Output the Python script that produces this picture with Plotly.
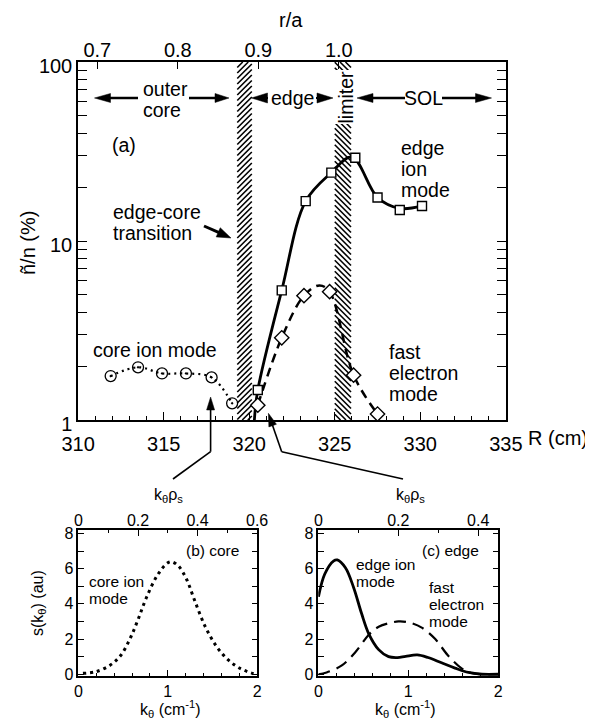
import math
import plotly.graph_objects as go

# The page places the figure 8 px from the top-left corner of the window,
# so the figure is 8 px smaller and positions are measured from the window corner.
OFF = 8
W, H = 593 - OFF, 719 - OFF
def X(px): return (px - OFF) / W
def Y(py): return 1 - (py - OFF) / H

# ---------------- data ----------------
# (a) fluctuation level vs major radius
core_R = [311.9, 313.5, 314.9, 316.3, 317.8, 319.0]
core_v = [1.76, 1.97, 1.82, 1.82, 1.73, 1.24]

edge_R = [320.5, 321.9, 323.3, 324.8, 326.2, 327.5, 328.8, 330.1]
edge_v = [1.47, 5.3, 16.7, 24.1, 29.2, 17.5, 14.9, 15.7]

fast_R = [320.5, 321.9, 323.2, 324.7, 326.1, 327.5]
fast_v = [1.21, 2.88, 4.95, 5.21, 1.78, 1.08]

edge_fit_R = [320.3, 320.5, 321.9, 323.3, 324.8, 326.0, 327.5, 328.8, 330.1]
edge_fit_v = [1.0, 1.47, 5.3, 16.7, 24.1, 29.5, 17.5, 15.2, 15.7]

fast_fit_R = [320.5, 321.9, 323.2, 324.1, 324.7, 326.1, 327.5]
fast_fit_v = [1.21, 2.88, 4.95, 5.65, 5.21, 1.78, 1.08]

band_lo = [319.3, 325.0]     # edge-core transition, limiter
band_hi = [320.15, 325.95]

R_ticks = [310, 315, 320, 325, 330, 335]
ra_ticks = [0.7, 0.8, 0.9, 1.0]
ra_labels = ["0.7", "0.8", "0.9", "1.0"]
n_ticks = [1, 10, 100]

# (b) core spectrum
k_core = [0.05, 0.2, 0.35, 0.47, 0.58, 0.67, 0.76, 0.88, 0.99, 1.04, 1.12, 1.21,
          1.30, 1.42, 1.55, 1.68, 1.81, 1.96]
s_core = [0.05, 0.15, 0.5, 1.05, 2.05, 3.15, 4.35, 5.6, 6.3, 6.4, 6.15, 5.4,
          4.2, 2.7, 1.55, 0.8, 0.33, 0.03]

# (c) edge spectra
k_edge_ion = [0.0, 0.07, 0.17, 0.21, 0.3, 0.39, 0.48, 0.56, 0.67, 0.78, 0.88, 0.97,
              1.1, 1.22, 1.37, 1.52, 1.67, 1.82, 2.0]
s_edge_ion = [4.4, 5.7, 6.45, 6.5, 6.05, 4.95, 3.45, 2.3, 1.4, 1.0, 0.95, 1.02,
              1.1, 0.95, 0.65, 0.35, 0.1, 0.0, 0.0]

k_fast = [0.0, 0.09, 0.26, 0.41, 0.56, 0.67, 0.78, 0.89, 1.0, 1.15, 1.3, 1.44,
          1.59, 1.7, 1.82, 2.0]
s_fast = [0.0, 0.1, 0.5, 1.25, 2.25, 2.7, 2.9, 3.0, 2.95, 2.65, 2.0, 1.08,
          0.35, 0.07, 0.0, 0.0]

s_ticks = [0, 2, 4, 6, 8]
k_ticks = [0, 1, 2]
kr_ticks_b = [0, 0.2, 0.4, 0.6]
kr_ticks_c = [0, 0.2, 0.4]

FONT = "Liberation Sans, Arial, Helvetica, sans-serif"
F_TICK = 20
F_MAIN = 19.5
F_SUB = 16
F_SUBTXT = 15.5

# main panel frame in window pixels
PX_L, PX_R, PX_T, PX_B = 78, 506, 62, 420
R_RANGE = [309.99, 335.01]

fig = go.Figure()

# fitted curves
fig.add_trace(go.Scatter(x=core_R, y=core_v, mode="lines",
                         line=dict(color="black", width=2.2, dash="2px,4px", shape="spline", smoothing=1.0),
                         showlegend=False, xaxis="x", yaxis="y"))
fig.add_trace(go.Scatter(x=edge_fit_R, y=edge_fit_v, mode="lines",
                         line=dict(color="black", width=2.8, shape="spline", smoothing=1.0),
                         showlegend=False, xaxis="x", yaxis="y"))
fig.add_trace(go.Scatter(x=fast_fit_R, y=fast_fit_v, mode="lines",
                         line=dict(color="black", width=2.5, dash="9px,6px", shape="spline", smoothing=1.0),
                         showlegend=False, xaxis="x", yaxis="y"))

# data markers
fig.add_trace(go.Scatter(x=core_R, y=core_v, mode="markers",
                         marker=dict(symbol="circle-open-dot", size=11, color="black", line=dict(width=1.3)),
                         showlegend=False, xaxis="x", yaxis="y"))
fig.add_trace(go.Scatter(x=edge_R, y=edge_v, mode="markers",
                         marker=dict(symbol="square", size=9, color="white", line=dict(width=1.4, color="black")),
                         showlegend=False, xaxis="x", yaxis="y"))
fig.add_trace(go.Scatter(x=fast_R, y=fast_v, mode="markers",
                         marker=dict(symbol="diamond", size=11, color="white", line=dict(width=1.4, color="black")),
                         showlegend=False, xaxis="x", yaxis="y"))

# (b) core spectrum
fig.add_trace(go.Scatter(x=k_core, y=s_core, mode="lines",
                         line=dict(color="black", width=3, dash="3px,4px", shape="spline"),
                         showlegend=False, xaxis="x3", yaxis="y3"))
# (c) edge spectra
fig.add_trace(go.Scatter(x=k_edge_ion, y=s_edge_ion, mode="lines",
                         line=dict(color="black", width=2.8, shape="spline"),
                         showlegend=False, xaxis="x5", yaxis="y5"))
fig.add_trace(go.Scatter(x=k_fast, y=s_fast, mode="lines",
                         line=dict(color="black", width=2.2, dash="12px,7px", shape="spline"),
                         showlegend=False, xaxis="x5", yaxis="y5"))

# empty traces so that the secondary (top) axes get drawn
for xa, ya in (("x2", "y"), ("x4", "y3"), ("x6", "y5")):
    fig.add_trace(go.Scatter(x=[], y=[], mode="markers", showlegend=False,
                             hoverinfo="skip", xaxis=xa, yaxis=ya))

axcommon = dict(showgrid=False, zeroline=False, showline=True, linecolor="black", linewidth=1.5,
                ticks="inside", tickcolor="black", tickwidth=1.3)

fig.update_layout(
    width=W, height=H, margin=dict(l=0, r=0, t=0, b=0, autoexpand=False),
    paper_bgcolor="white", plot_bgcolor="rgba(0,0,0,0)",
    font=dict(family=FONT, color="black", size=F_MAIN),
    showlegend=False,
    xaxis=dict(axcommon, domain=[X(PX_L), X(PX_R)], anchor="y", range=R_RANGE,
               tickvals=R_ticks, ticklen=8, mirror=True, ticklabelstandoff=5,
               minor=dict(dtick=1, ticks="inside", ticklen=4, tickcolor="black", tickwidth=1.2),
               tickfont=dict(size=F_TICK)),
    xaxis2=dict(showgrid=False, zeroline=False, overlaying="x", side="top", anchor="y",
                range=[0.676, 1.2077], tickvals=ra_ticks, ticktext=ra_labels,
                ticks="inside", ticklen=7, tickcolor="black", tickwidth=1.3, showline=False,
                tickfont=dict(size=F_TICK)),
    yaxis=dict(axcommon, domain=[Y(PX_B), Y(PX_T)], anchor="x", type="log", range=[0, 2],
               tickvals=n_ticks, ticktext=[str(v) for v in n_ticks], ticklen=9, mirror="allticks",
               ticklabelshift=4,
               minor=dict(tickvals=[2, 3, 4, 5, 6, 7, 8, 9, 20, 30, 40, 50, 60, 70, 80, 90],
                          ticks="inside", ticklen=5, tickcolor="black", tickwidth=1.2),
               tickfont=dict(size=F_TICK)),
    # panel (b)
    xaxis3=dict(axcommon, domain=[X(78.3), X(257.3)], anchor="y3", range=[-0.002, 2.002],
                tickvals=k_ticks, ticklen=6, mirror=True,
                minor=dict(dtick=0.2, ticks="inside", ticklen=3, tickcolor="black"),
                tickfont=dict(size=F_SUB)),
    xaxis4=dict(showgrid=False, zeroline=False, overlaying="x3", side="top", anchor="y3",
                range=[-0.0006, 0.6006], tickvals=kr_ticks_b, ticktext=["0", "0.2", "0.4", "0.6"],
                ticks="inside", ticklen=6, tickcolor="black", showline=False,
                minor=dict(dtick=0.1, ticks="inside", ticklen=3, tickcolor="black"),
                tickfont=dict(size=F_SUB)),
    yaxis3=dict(axcommon, domain=[Y(676), Y(530)], anchor="x3", range=[-0.1, 8.2],
                tickvals=s_ticks, ticklen=6, mirror="allticks",
                minor=dict(dtick=1, ticks="inside", ticklen=3, tickcolor="black"),
                tickfont=dict(size=F_SUB)),
    # panel (c)
    xaxis5=dict(axcommon, domain=[X(318.3), X(498.3)], anchor="y5", range=[-0.002, 2.002],
                tickvals=k_ticks, ticklen=6, mirror=True,
                minor=dict(dtick=0.2, ticks="inside", ticklen=3, tickcolor="black"),
                tickfont=dict(size=F_SUB)),
    xaxis6=dict(showgrid=False, zeroline=False, overlaying="x5", side="top", anchor="y5",
                range=[-0.00045, 0.45045], tickvals=kr_ticks_c, ticktext=["0", "0.2", "0.4"],
                ticks="inside", ticklen=6, tickcolor="black", showline=False,
                minor=dict(dtick=0.1, ticks="inside", ticklen=3, tickcolor="black"),
                tickfont=dict(size=F_SUB)),
    yaxis5=dict(axcommon, domain=[Y(676), Y(530)], anchor="x5", range=[-0.1, 8.2],
                tickvals=s_ticks, ticklen=6, mirror="allticks",
                minor=dict(dtick=1, ticks="inside", ticklen=3, tickcolor="black"),
                tickfont=dict(size=F_SUB)),
)

ann = []
def text(t, x, y, size=F_MAIN, anchor="center", angle=0, bg=None):
    d = dict(text=t, x=X(x), y=Y(y), xref="paper", yref="paper", showarrow=False,
             xanchor=anchor, yanchor="middle", font=dict(size=size, family=FONT, color="black"),
             textangle=angle, borderpad=0)
    if bg:
        d["bgcolor"] = bg
    ann.append(d)

# main panel texts
text("r/a", 291, 20, size=F_TICK)
text("outer", 142, 89, anchor="left")
text("core", 142, 110, anchor="left")
text("edge", 292, 98)
text("limiter", 345.5, 97, angle=-90, bg="white")
text("SOL", 423, 98)
text("(a)", 124, 145)
text("edge-core", 112, 212, anchor="left")
text("transition", 112, 233, anchor="left")
text("edge", 400, 148, anchor="left")
text("ion", 400, 169, anchor="left")
text("mode", 400, 190, anchor="left")
text("fast", 387.5, 352, anchor="left")
text("electron", 387.5, 373, anchor="left")
text("mode", 387.5, 394, anchor="left")
text("core ion mode", 155, 350)
text("R (cm)", 527, 438, size=F_TICK, anchor="left")
text("ñ/n (%)", 28, 243, size=F_TICK, angle=-90)

# lower panel texts
for cx in (168, 410):
    text("k<sub>θ</sub>ρ<sub>s</sub>", cx, 495, size=F_SUB)
for cx in (170, 405):
    text("k<sub>θ</sub> (cm<sup>-1</sup>)", cx, 709, size=F_SUB)
text("s(k<sub>θ</sub>) (au)", 38, 603, size=F_SUB, angle=-90)
text("(b) core", 212.5, 550, size=F_SUBTXT)
text("core ion", 88.3, 581, size=F_SUBTXT, anchor="left")
text("mode", 88.3, 598, size=F_SUBTXT, anchor="left")
text("(c) edge", 450, 550, size=F_SUBTXT)
text("edge ion", 355, 564, size=F_SUBTXT, anchor="left")
text("mode", 355, 581, size=F_SUBTXT, anchor="left")
text("fast", 428, 587, size=F_SUBTXT, anchor="left")
text("electron", 428, 604, size=F_SUBTXT, anchor="left")
text("mode", 428, 621, size=F_SUBTXT, anchor="left")

shapes = []

# hatching of the two radial bands (45 degree strokes, drawn under the curves)
px_per_R = (PX_R - PX_L) / (R_RANGE[1] - R_RANGE[0])
HATCH_STEP = 5.5

def clip(ta, ya, tb, yb_):
    if ya > PX_B:
        f = (ya - PX_B) / (ya - yb_)
        ta, ya = ta + f * (tb - ta), PX_B
    if ya < PX_T:
        f = (PX_T - ya) / (yb_ - ya)
        ta, ya = ta + f * (tb - ta), PX_T
    return ta, ya

for lo, hi, rising in zip(band_lo, band_hi, [True, False]):
    wpx = (hi - lo) * px_per_R
    yb = PX_T
    while yb < PX_B + wpx:
        if rising:
            (t0, y0), (t1, y1) = (0.0, yb), (1.0, yb - wpx)
        else:
            (t0, y0), (t1, y1) = (0.0, yb - wpx), (1.0, yb)
        t0, y0 = clip(t0, y0, t1, y1)
        t1, y1 = clip(t1, y1, t0, y0)
        if abs(t1 - t0) > 1e-3:
            shapes.append(dict(type="line", layer="below", xref="x", yref="paper",
                               x0=lo + t0 * (hi - lo), x1=lo + t1 * (hi - lo),
                               y0=Y(y0), y1=Y(y1), line=dict(color="black", width=1.6)))
        yb += HATCH_STEP

def seg(x0, y0, x1, y1, lw=1.5):
    shapes.append(dict(type="line", xref="paper", yref="paper", x0=X(x0), y0=Y(y0), x1=X(x1), y1=Y(y1),
                       line=dict(color="black", width=lw)))

def arrow(x0, y0, x1, y1, hl=14, hw=8, lw=2.2):
    dx, dy = x1 - x0, y1 - y0
    L = math.hypot(dx, dy)
    ux, uy = dx / L, dy / L
    bx, by = x1 - ux * hl, y1 - uy * hl
    if L > hl:
        seg(x0, y0, bx + ux * 1, by + uy * 1, lw)
    px_, py_ = -uy * hw / 2, ux * hw / 2
    path = "M {:.5f},{:.5f} L {:.5f},{:.5f} L {:.5f},{:.5f} Z".format(
        X(x1), Y(y1), X(bx + px_), Y(by + py_), X(bx - px_), Y(by - py_))
    shapes.append(dict(type="path", xref="paper", yref="paper", path=path,
                       fillcolor="black", line=dict(color="black", width=0.5)))

# region arrows
arrow(138, 98, 94.5, 98, hl=16, hw=9, lw=2.5)
arrow(189, 98, 229, 98, hl=14, hw=9, lw=2.5)
arrow(268, 98, 251.5, 98, hl=16, hw=10)
arrow(316, 98, 333, 98, hl=16, hw=10)
arrow(405, 98, 357, 98, hl=16, hw=9, lw=2.5)
arrow(442, 98, 491.5, 98, hl=16, hw=9, lw=2.5)
# edge-core transition
arrow(204, 226, 231, 238, hl=14, hw=10, lw=3)
# connectors to spectra panels
seg(173, 479, 210.6, 451.7, 1.6)
arrow(210.6, 451.7, 210.6, 397, hl=13, hw=8, lw=1.6)
seg(403, 479, 281.7, 451.7, 1.6)
arrow(281.7, 451.7, 268.4, 413.3, hl=13, hw=8, lw=1.6)

fig.update_layout(annotations=ann, shapes=shapes)

fig.write_html("out.html")
